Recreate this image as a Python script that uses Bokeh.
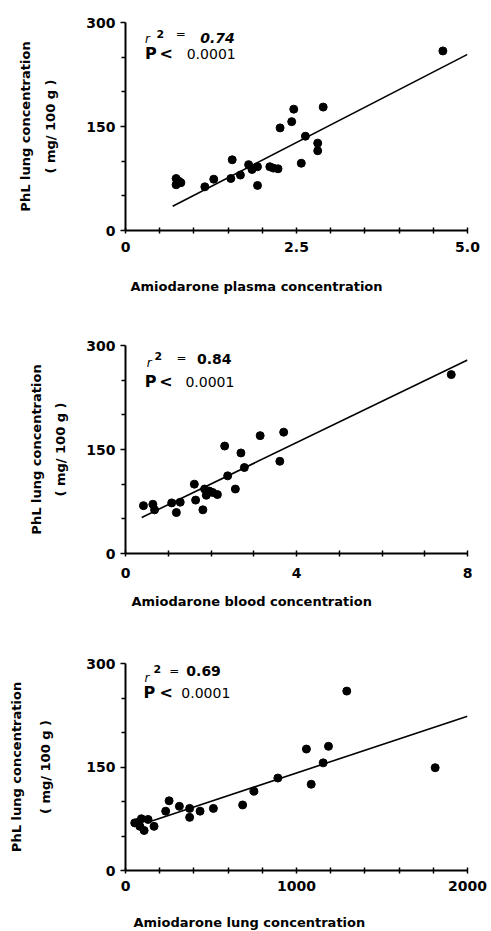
import numpy as np
from bokeh.plotting import figure
from bokeh.models import Range1d, FixedTicker, Label, Title
from bokeh.layouts import column
from bokeh.embed import file_html
from bokeh.resources import INLINE

# ---------------- data ----------------
plasma_conc = [0.74, 0.78, 0.74, 0.81, 1.16, 1.29, 1.54, 1.56, 1.68, 1.80, 1.85,
               1.93, 1.93, 2.11, 2.16, 2.23, 2.26, 2.43, 2.46, 2.57, 2.63, 2.81,
               2.81, 2.89, 4.64]
plasma_phl = [75, 71, 66, 69, 63, 74, 75, 102, 80, 95, 88,
              92, 65, 92, 90, 89, 148, 157, 175, 97, 136, 126,
              115, 178, 259]
plasma_fit_x = [0.69, 5.0]
plasma_fit_y = [35, 254]

blood_conc = [0.42, 0.64, 0.68, 1.08, 1.19, 1.28, 1.61, 1.64, 1.81, 1.85, 1.89,
              1.96, 2.04, 2.15, 2.32, 2.39, 2.57, 2.70, 2.78, 3.15, 3.61, 3.70, 7.62]
blood_phl = [69, 71, 63, 73, 59, 74, 100, 77, 63, 93, 84,
             90, 88, 85, 155, 112, 93, 145, 124, 170, 133, 175, 258]
blood_fit_x = [0.38, 8.0]
blood_fit_y = [52, 279]

lung_conc = [54, 74, 84, 93, 109, 132, 167, 235, 255, 315, 375, 375, 436, 514,
             685, 751, 891, 1058, 1086, 1156, 1187, 1294, 1811]
lung_phl = [69, 70, 64, 75, 58, 74, 64, 86, 101, 93, 90, 77, 86, 90,
            95, 115, 134, 176, 125, 156, 180, 260, 149]
lung_fit_x = [132, 2000]
lung_fit_y = [70, 223.5]

y_ticks = [0, 150, 300]
y_minor = [50, 100, 200, 250]
y_labels = ["0", "150", "300"]

plasma_ticks = [0, 2.5, 5.0]
plasma_minor = [0.5, 1.0, 1.5, 2.0, 3.0, 3.5, 4.0, 4.5]
plasma_labels = ["0", "2.5", "5.0"]
blood_ticks = [0, 4, 8]
blood_minor = [1, 2, 3, 5, 6, 7]
blood_labels = ["0", "4", "8"]
lung_ticks = [0, 1000, 2000]
lung_minor = [200, 400, 600, 800, 1200, 1400, 1600, 1800]
lung_labels = ["0", "1000", "2000"]

r2_values = ["0.74", "0.84", "0.69"]
p_value = "0.0001"
x_titles = ["Amiodarone plasma concentration",
            "Amiodarone blood concentration",
            "Amiodarone lung concentration"]
y_title_1 = "PhL lung concentration"
y_title_2 = "( mg/ 100 g )"

FONT = "DejaVu Sans"
FIG_W = 491


def build(xs, ys, fx, fy, xmax, ticks, minor, labels, r2, xtitle, geo, txt, r2_italic):
    H, L, R, T, B, xlab_standoff = geo
    W = FIG_W - L - R
    Hf = H - T - B
    p = figure(width=FIG_W, height=H, x_range=Range1d(0, xmax), y_range=Range1d(0, 300),
               output_backend="svg", toolbar_location=None,
               min_border_left=L, min_border_right=R, min_border_top=T, min_border_bottom=B)
    p.outline_line_color = None
    p.xgrid.visible = False
    p.ygrid.visible = False
    p.background_fill_color = "white"
    p.border_fill_color = "white"

    p.line(fx, fy, line_color="black", line_width=1.6)
    p.scatter(xs, ys, size=8, fill_color="black", line_color="black")

    for ax in (p.xaxis[0], p.yaxis[0]):
        ax.axis_line_width = 2
        ax.axis_line_color = "black"
        ax.major_tick_line_width = 1.5
        ax.minor_tick_line_width = 1.5
        ax.major_tick_line_color = "black"
        ax.minor_tick_line_color = "black"
        ax.major_label_text_font = FONT
        ax.major_label_text_font_style = "bold"
        ax.major_label_text_font_size = "14px"
        ax.major_label_text_color = "black"

    xa = p.xaxis[0]
    xa.ticker = FixedTicker(ticks=ticks, minor_ticks=minor)
    xa.major_label_overrides = {t: s for t, s in zip(ticks, labels)}
    xa.major_tick_in = 3
    xa.major_tick_out = 3
    xa.minor_tick_in = 3
    xa.minor_tick_out = 3
    xa.major_label_standoff = xlab_standoff
    # invisible spacer label: pushes the x title (a Title panel) further down
    xa.axis_label = " "
    xa.axis_label_text_font_size = "1px"
    xa.axis_label_standoff = txt["xspace"]

    ya = p.yaxis[0]
    ya.ticker = FixedTicker(ticks=y_ticks, minor_ticks=y_minor)
    ya.major_label_overrides = {t: s for t, s in zip(y_ticks, y_labels)}
    ya.major_tick_in = 0
    ya.major_tick_out = 5
    ya.minor_tick_in = 0
    ya.minor_tick_out = 4
    ya.major_label_standoff = 5
    ya.axis_label = y_title_1 + "\n" + y_title_2
    ya.axis_label_text_font = FONT
    ya.axis_label_text_font_size = "13px"
    ya.axis_label_text_font_style = "bold"
    ya.axis_label_text_color = "black"
    ya.axis_label_text_line_height = txt["ylh"]
    ya.axis_label_standoff = txt["ystand"]

    def to_data(dx, dy):
        return dx / W * xmax, 300 - dy / Hf * 300

    def lab(dx, dy, text, size, style="normal", align="left", baseline="middle"):
        x, y = to_data(dx, dy)
        p.add_layout(Label(x=x, y=y, text=text, text_font=FONT, text_font_size=size,
                           text_font_style=style, text_align=align, text_baseline=baseline,
                           text_color="black"))

    # statistics text
    lab(*txt["r"], "r", "12px", "italic", "left", "alphabetic")
    lab(*txt["two"], "2", "11px", "bold", "left", "alphabetic")
    lab(*txt["eq"], "=", "12px", "normal", "center", "middle")
    lab(*txt["val"], r2, "14px", "bold italic" if r2_italic else "bold", "left", "middle")
    lab(*txt["P"], "P", "16px", "bold", "left", "middle")
    lab(*txt["lt"], "<", "16px", "bold", "left", "middle")
    lab(*txt["pv"], p_value, "14px", "normal", "left", "middle")

    # x title, left aligned under the axis
    p.add_layout(Title(text=xtitle, align="left", offset=txt["xoff"], standoff=0, text_font=FONT,
                       text_font_size="13px", text_font_style="bold", text_color="black"), "below")
    return p


txt1 = dict(r=(20, 16), two=(32, 11), eq=(57, 11), val=(77, 15), P=(20, 31), lt=(35, 31),
            pv=(63, 31), ystand=25, ylh=1.7, xoff=5, xspace=18)
txt2 = dict(r=(22, 17), two=(30, 10), eq=(58, 12), val=(74, 13), P=(20, 36), lt=(35, 36),
            pv=(62, 36), ystand=15, ylh=1.62, xoff=6, xspace=7)
txt3 = dict(r=(19, 14), two=(28, 5), eq=(49, 7), val=(61, 7), P=(18, 29), lt=(34, 29),
            pv=(56, 29), ystand=30, ylh=1.92, xoff=8, xspace=15)

# (height, left, right, top, bottom, x label standoff)
geo1 = (318, 125, 14, 22, 88, 8)
geo2 = (318, 123, 14, 27, 83, 11)
geo3 = (295, 124, 24, 27, 61, 7)

p1 = build(plasma_conc, plasma_phl, plasma_fit_x, plasma_fit_y, 5.0, plasma_ticks, plasma_minor,
           plasma_labels, r2_values[0], x_titles[0], geo1, txt1, True)
p2 = build(blood_conc, blood_phl, blood_fit_x, blood_fit_y, 8.0, blood_ticks, blood_minor,
           blood_labels, r2_values[1], x_titles[1], geo2, txt2, False)
p3 = build(lung_conc, lung_phl, lung_fit_x, lung_fit_y, 2000.0, lung_ticks, lung_minor,
           lung_labels, r2_values[2], x_titles[2], geo3, txt3, False)

layout = column(p1, p2, p3)
open("out.html", "w").write(file_html(layout, INLINE))
